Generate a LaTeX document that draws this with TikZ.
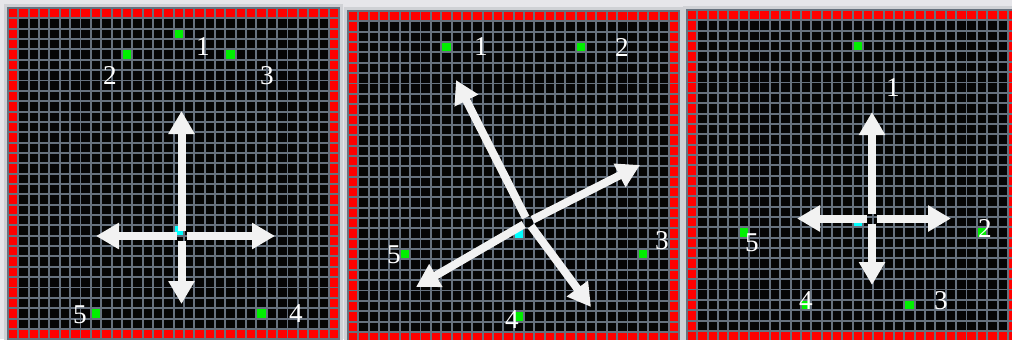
\documentclass[tikz,border=0pt]{standalone}
\usepackage{fontspec}
\setmainfont{Liberation Serif}
\usepackage{xcolor}
\definecolor{gridBack}{HTML}{E6E6EA}
\definecolor{gridFrame}{HTML}{CFD1D5}
\definecolor{gridLine}{HTML}{66717E}
\definecolor{gridCell}{HTML}{050505}
\definecolor{gridWall}{HTML}{FF0000}
\definecolor{gridFood}{HTML}{00F000}
\definecolor{gridAgent}{HTML}{00FFFF}
\definecolor{gridArrow}{HTML}{F2F2F2}
\usepackage{tikz}
\usetikzlibrary{arrows.meta}

% one cell: origin x, origin y, column, row, colour
\newcommand{\gridcell}[5]{\fill[#5] ({#1+#3*10.35},{#2+#4*10.35}) rectangle ++(8.4,8.4);}
% one 32x32 panel with its wall of red cells
\newcommand{\gridpanel}[2]{%
  \fill[gridFrame] ({#1-5},{#2-5}) rectangle ({#1+31*10.35+13},{#2+31*10.35+13});
  \fill[gridLine] ({#1-2.2},{#2-2.2}) rectangle ({#1+31*10.35+10.6},{#2+31*10.35+10.6});
  \foreach \i in {0,...,31}{
    \foreach \j in {0,...,31}{\gridcell{#1}{#2}{\i}{\j}{gridCell}}
  }
  \foreach \k in {0,...,31}{
    \gridcell{#1}{#2}{\k}{0}{gridWall}
    \gridcell{#1}{#2}{\k}{31}{gridWall}
    \gridcell{#1}{#2}{0}{\k}{gridWall}
    \gridcell{#1}{#2}{31}{\k}{gridWall}
  }
}

\begin{document}
\begin{tikzpicture}[x=0.5pt,y=-0.5pt,
    agentArrow/.style={draw=gridArrow,line width=4pt,shorten <=2.5pt,
      -{Triangle[width=12.5pt,length=11.5pt]}},
    numLabel/.style={text=white,inner sep=0pt,font=\fontsize{13.6}{16}\selectfont}]
  \useasboundingbox (0,0) rectangle (1012,339);
  \fill[gridBack] (0,0) rectangle (1012,339);

  % left panel
  \gridpanel{9}{9}
  \gridcell{9}{9}{16}{21}{gridAgent}
  \foreach \c/\r in {16/2,21/4,11/4,8/29,24/29}{\gridcell{9}{9}{\c}{\r}{gridFood}}
  \coordinate (p1c) at (181.5,236);
  \coordinate (p1u) at (181.5,111);
  \coordinate (p1d) at (181.5,304);
  \coordinate (p1l) at (96,236);
  \coordinate (p1r) at (275,236);
  \draw[agentArrow] (p1c) -- (p1u);
  \draw[agentArrow] (p1c) -- (p1d);
  \draw[agentArrow] (p1c) -- (p1l);
  \draw[agentArrow] (p1c) -- (p1r);
  \node[numLabel] (p1n1) at (203,47) {1};
  \node[numLabel] (p1n2) at (110,75) {2};
  \node[numLabel] (p1n3) at (267,76) {3};
  \node[numLabel] (p1n4) at (296,314) {4};
  \node[numLabel] (p1n5) at (80,315) {5};

  % middle panel
  \gridpanel{349}{12}
  \gridcell{349}{12}{16}{21}{gridAgent}
  \foreach \c/\r in {9/3,22/3,28/23,5/23,16/29}{\gridcell{349}{12}{\c}{\r}{gridFood}}
  \coordinate (p2c) at (528,222);
  \coordinate (p2ul) at (456,80);
  \coordinate (p2ur) at (640,165);
  \coordinate (p2dl) at (416,287);
  \coordinate (p2dr) at (591,307);
  \draw[agentArrow] (p2c) -- (p2ul);
  \draw[agentArrow] (p2c) -- (p2ur);
  \draw[agentArrow] (p2c) -- (p2dl);
  \draw[agentArrow] (p2c) -- (p2dr);
  \node[numLabel] (p2n1) at (481,47) {1};
  \node[numLabel] (p2n2) at (622,47) {2};
  \node[numLabel] (p2n3) at (662,241) {3};
  \node[numLabel] (p2n4) at (512,320) {4};
  \node[numLabel] (p2n5) at (394,255) {5};

  % right panel
  \gridpanel{688}{11}
  \gridcell{688}{11}{16}{20}{gridAgent}
  \foreach \c/\r in {16/3,28/21,21/28,11/28,5/21}{\gridcell{688}{11}{\c}{\r}{gridFood}}
  \coordinate (p3c) at (872,218.5);
  \coordinate (p3u) at (872,112);
  \coordinate (p3d) at (872,285);
  \coordinate (p3l) at (797,218.5);
  \coordinate (p3r) at (951,218.5);
  \draw[agentArrow] (p3c) -- (p3u);
  \draw[agentArrow] (p3c) -- (p3d);
  \draw[agentArrow] (p3c) -- (p3l);
  \draw[agentArrow] (p3c) -- (p3r);
  \node[numLabel] (p3n1) at (893,88) {1};
  \node[numLabel] (p3n2) at (985,228) {2};
  \node[numLabel] (p3n3) at (941,301) {3};
  \node[numLabel] (p3n4) at (806,301) {4};
  \node[numLabel] (p3n5) at (752,243) {5};
\end{tikzpicture}
\end{document}
